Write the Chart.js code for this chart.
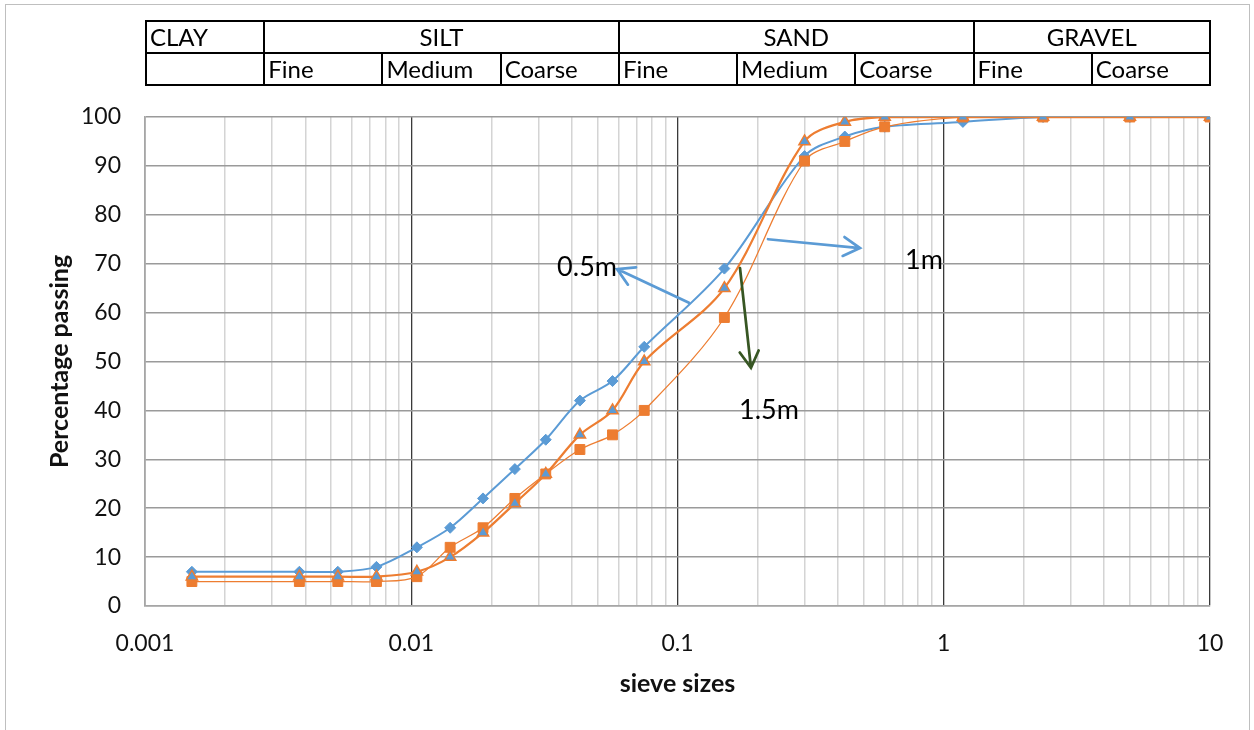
<!DOCTYPE html>
<html>
<head>
<meta charset="utf-8">
<script src="https://cdn.jsdelivr.net/npm/chart.js@4.4.1/dist/chart.umd.min.js"></script>
<style>
  body { margin: 0; background: #fff; font-family: Lato, sans-serif; }
  #wrap { position: relative; width: 1254px; height: 730px; overflow: hidden; }
  #frame { position: absolute; left: 5px; top: 4px; width: 1243px; height: 760px; border: 1.5px solid #BFBFBF; }
  #chart { position: absolute; left: 0; top: 0; }
  table.soil { position: absolute; left: 145px; top: 20px; width: 1066px; border-collapse: collapse; table-layout: fixed; font-size: 24px; color: #000; }
  table.soil td { border: 2px solid #000; height: 30px; padding: 0 3px; line-height: 30px; white-space: nowrap; overflow: hidden; }
</style>
</head>
<body>
<div id="wrap">
  <div id="frame"></div>
  <canvas id="chart" width="1254" height="730"></canvas>
  <table class="soil"><tr id="groupRow"></tr><tr id="subRow"></tr></table>
</div>
<script>
// sieve sizes (mm) and percentage passing for each depth
const sieveSizes = [0.0015, 0.0038, 0.0053, 0.0074, 0.0105, 0.014, 0.0186, 0.0245, 0.032, 0.043, 0.057, 0.075, 0.15, 0.3, 0.425, 0.6, 1.18, 2.36, 5, 10];
const passing05 = [7, 7, 7, 8, 12, 16, 22, 28, 34, 42, 46, 53, 69, 92, 96, 98, 99, 100, 100, 100];
const passing10 = [6, 6, 6, 6, 7, 10, 15, 21, 27, 35, 40, 50, 65, 95, 99, 100, 100, 100, 100, 100];
const passing15 = [5, 5, 5, 5, 6, 12, 16, 22, 27, 32, 35, 40, 59, 91, 95, 98, 100, 100, 100, 100];

const decades = [0.001, 0.01, 0.1, 1, 10];
const decadeLabels = ["0.001", "0.01", "0.1", "1", "10"];
const yTicks = [0, 10, 20, 30, 40, 50, 60, 70, 80, 90, 100];

// header table
const soilGroups = ["CLAY", "SILT", "SAND", "GRAVEL"];
const groupSpans = [1, 3, 3, 2];
const subClasses = ["", "Fine", "Medium", "Coarse", "Fine", "Medium", "Coarse", "Fine", "Coarse"];

const groupRow = document.getElementById("groupRow");
soilGroups.forEach((g, i) => {
  const td = document.createElement("td");
  td.colSpan = groupSpans[i];
  td.textContent = g;
  td.style.textAlign = groupSpans[i] === 1 ? "left" : "center";
  groupRow.appendChild(td);
});
const subRow = document.getElementById("subRow");
subClasses.forEach(s => {
  const td = document.createElement("td");
  td.textContent = s;
  subRow.appendChild(td);
});

const blue = "#5B9BD5";
const orange = "#ED7D31";

// text notes and arrows, in data units
const noteArrows = [
  { from: [0.1104, 62.0], to: [0.0593, 68.9], color: blue },
  { from: [0.2188, 75.0], to: [0.4846, 73.2], color: blue },
  { from: [0.1717, 69.1], to: [0.1888, 48.7], color: "#375623" }
];
const noteTexts = [
  { text: "0.5m", at: [0.0353, 69.3] },
  { text: "1m", at: [0.7155, 70.7] },
  { text: "1.5m", at: [0.1702, 40.0] }
];

const isDecade = v => Math.abs(Math.log10(v) - Math.round(Math.log10(v))) < 1e-6;

const notes = {
  id: "notes",
  afterDatasetsDraw(chart) {
    const { ctx, scales: { x, y } } = chart;
    ctx.save();
    ctx.lineCap = "round";
    noteArrows.forEach(a => {
      const tx = x.getPixelForValue(a.from[0]), ty = y.getPixelForValue(a.from[1]);
      const hx = x.getPixelForValue(a.to[0]), hy = y.getPixelForValue(a.to[1]);
      const ang = Math.atan2(ty - hy, tx - hx);
      const len = 19, spread = Math.PI / 6;
      ctx.strokeStyle = a.color;
      ctx.lineWidth = 2.75;
      ctx.beginPath();
      ctx.moveTo(tx, ty);
      ctx.lineTo(hx, hy);
      ctx.moveTo(hx + len * Math.cos(ang - spread), hy + len * Math.sin(ang - spread));
      ctx.lineTo(hx, hy);
      ctx.lineTo(hx + len * Math.cos(ang + spread), hy + len * Math.sin(ang + spread));
      ctx.stroke();
    });
    ctx.fillStyle = "#000";
    ctx.font = "27px Lato";
    ctx.textAlign = "left";
    ctx.textBaseline = "middle";
    noteTexts.forEach(t => {
      ctx.fillText(t.text, x.getPixelForValue(t.at[0]), y.getPixelForValue(t.at[1]));
    });
    ctx.restore();
  }
};

const points = arr => sieveSizes.map((s, i) => ({ x: s, y: arr[i] }));

new Chart(document.getElementById("chart"), {
  type: "line",
  data: {
    datasets: [
      {
        label: "0.5m",
        data: points(passing05),
        borderColor: blue,
        backgroundColor: blue,
        borderWidth: 2,
        pointStyle: "rectRot",
        pointRadius: 5.5,
        pointBorderWidth: 1,
        tension: 0.33,
        order: 3
      },
      {
        label: "1m",
        data: points(passing10),
        borderColor: orange,
        backgroundColor: blue,
        pointBorderColor: orange,
        borderWidth: 2.25,
        pointStyle: "triangle",
        pointRadius: 6.5,
        pointBorderWidth: 1.5,
        tension: 0.33,
        order: 1
      },
      {
        label: "1.5m",
        data: points(passing15),
        borderColor: orange,
        backgroundColor: orange,
        borderWidth: 1.25,
        pointStyle: "rect",
        pointRadius: 7,
        pointBorderWidth: 1,
        tension: 0.33,
        order: 2
      }
    ]
  },
  options: {
    responsive: false,
    animation: false,
    devicePixelRatio: 1,
    layout: { padding: { top: 117, right: 44, left: 0, bottom: 0 } },
    plugins: { legend: { display: false }, tooltip: { enabled: false } },
    scales: {
      x: {
        type: "logarithmic",
        min: 0.001,
        max: 10,
        afterBuildTicks: scale => {
          const t = [];
          decades.forEach((d, i) => {
            if (i === decades.length - 1) { t.push({ value: d }); return; }
            for (let m = 1; m < 10; m++) t.push({ value: +(d * m).toPrecision(3) });
          });
          scale.ticks = t;
        },
        afterFit: scale => { scale.height = 124; },
        ticks: {
          autoSkip: false,
          maxRotation: 0,
          padding: 24,
          color: "#111",
          font: { family: "Lato", size: 23 },
          callback: v => {
            const i = decades.findIndex(d => Math.abs(d - v) < d * 1e-6);
            return i >= 0 ? decadeLabels[i] : "";
          }
        },
        grid: {
          drawTicks: false,
          color: c => (c.tick && isDecade(c.tick.value) ? "#3a3a3a" : "#D4D4D4"),
          lineWidth: c => (c.tick && isDecade(c.tick.value) ? 1.3 : 1.5)
        },
        border: { color: "#A6A6A6", width: 1.5 },
        title: {
          display: true,
          text: "sieve sizes",
          color: "#111",
          font: { family: "Lato", size: 25, weight: "bold" },
          padding: { top: 0, bottom: 31 }
        }
      },
      y: {
        min: 0,
        max: 100,
        afterBuildTicks: scale => { scale.ticks = yTicks.map(v => ({ value: v })); },
        afterFit: scale => { scale.width = 145; },
        ticks: {
          padding: 24,
          color: "#111",
          font: { family: "Lato", size: 23 }
        },
        grid: { drawTicks: false, color: "#9A9A9A", lineWidth: 1.5 },
        border: { color: "#A6A6A6", width: 1.5 },
        title: {
          display: true,
          text: "Percentage passing",
          color: "#111",
          font: { family: "Lato", size: 25, weight: "bold" },
          padding: { top: 45, bottom: 0 }
        }
      }
    }
  },
  plugins: [notes]
});
</script>
</body>
</html>
